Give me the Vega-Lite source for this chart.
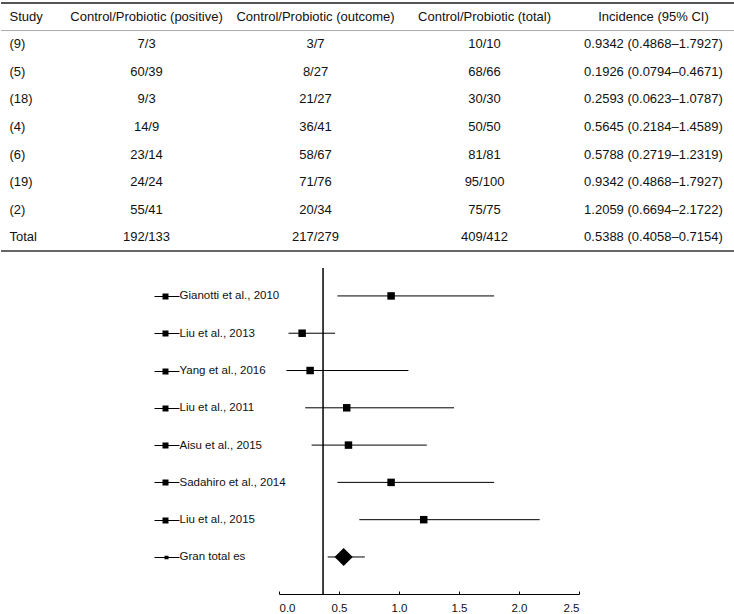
{
  "$schema": "https://vega.github.io/schema/vega-lite/v6.json",
  "background": "white",
  "padding": {"left": 0, "top": 2, "right": 0, "bottom": 0},
  "config": {
    "view": {"stroke": null},
    "font": "Liberation Sans",
    "axis": {"grid": false, "labelFont": "Liberation Sans", "titleFont": "Liberation Sans"}
  },
  "datasets": {
    "table": [
      {"row": "Study", "col": "pos", "text": "Control/Probiotic (positive)"},
      {"row": "Study", "col": "out", "text": "Control/Probiotic (outcome)"},
      {"row": "Study", "col": "tot", "text": "Control/Probiotic (total)"},
      {"row": "Study", "col": "inc", "text": "Incidence (95% CI)"},
      {"row": "(9)", "col": "pos", "text": "7/3"},
      {"row": "(9)", "col": "out", "text": "3/7"},
      {"row": "(9)", "col": "tot", "text": "10/10"},
      {"row": "(9)", "col": "inc", "text": "0.9342 (0.4868–1.7927)"},
      {"row": "(5)", "col": "pos", "text": "60/39"},
      {"row": "(5)", "col": "out", "text": "8/27"},
      {"row": "(5)", "col": "tot", "text": "68/66"},
      {"row": "(5)", "col": "inc", "text": "0.1926 (0.0794–0.4671)"},
      {"row": "(18)", "col": "pos", "text": "9/3"},
      {"row": "(18)", "col": "out", "text": "21/27"},
      {"row": "(18)", "col": "tot", "text": "30/30"},
      {"row": "(18)", "col": "inc", "text": "0.2593 (0.0623–1.0787)"},
      {"row": "(4)", "col": "pos", "text": "14/9"},
      {"row": "(4)", "col": "out", "text": "36/41"},
      {"row": "(4)", "col": "tot", "text": "50/50"},
      {"row": "(4)", "col": "inc", "text": "0.5645 (0.2184–1.4589)"},
      {"row": "(6)", "col": "pos", "text": "23/14"},
      {"row": "(6)", "col": "out", "text": "58/67"},
      {"row": "(6)", "col": "tot", "text": "81/81"},
      {"row": "(6)", "col": "inc", "text": "0.5788 (0.2719–1.2319)"},
      {"row": "(19)", "col": "pos", "text": "24/24"},
      {"row": "(19)", "col": "out", "text": "71/76"},
      {"row": "(19)", "col": "tot", "text": "95/100"},
      {"row": "(19)", "col": "inc", "text": "0.9342 (0.4868–1.7927)"},
      {"row": "(2)", "col": "pos", "text": "55/41"},
      {"row": "(2)", "col": "out", "text": "20/34"},
      {"row": "(2)", "col": "tot", "text": "75/75"},
      {"row": "(2)", "col": "inc", "text": "1.2059 (0.6694–2.1722)"},
      {"row": "Total", "col": "pos", "text": "192/133"},
      {"row": "Total", "col": "out", "text": "217/279"},
      {"row": "Total", "col": "tot", "text": "409/412"},
      {"row": "Total", "col": "inc", "text": "0.5388 (0.4058–0.7154)"}
    ],
    "forest": [
      {"study": "Gianotti et al., 2010", "est": 0.9342, "lo": 0.4868, "hi": 1.7927, "kind": "study"},
      {"study": "Liu et al., 2013", "est": 0.1926, "lo": 0.0794, "hi": 0.4671, "kind": "study"},
      {"study": "Yang et al., 2016", "est": 0.2593, "lo": 0.0623, "hi": 1.0787, "kind": "study"},
      {"study": "Liu et al., 2011", "est": 0.5645, "lo": 0.2184, "hi": 1.4589, "kind": "study"},
      {"study": "Aisu et al., 2015", "est": 0.5788, "lo": 0.2719, "hi": 1.2319, "kind": "study"},
      {"study": "Sadahiro et al., 2014", "est": 0.9342, "lo": 0.4868, "hi": 1.7927, "kind": "study"},
      {"study": "Liu et al., 2015", "est": 1.2059, "lo": 0.6694, "hi": 2.1722, "kind": "study"},
      {"study": "Gran total es", "est": 0.5388, "lo": 0.4058, "hi": 0.7154, "kind": "total"}
    ]
  },
  "spacing": 15,
  "vconcat": [
    {
      "width": 734,
      "height": 248,
      "layer": [
        {
          "data": {"name": "table"},
          "mark": {"type": "text", "fontSize": 13, "color": "#111", "font": "Liberation Sans"},
          "encoding": {
            "x": {"field": "col", "type": "nominal", "title": null,
              "scale": {"type": "point", "domain": ["pos", "out", "tot", "inc"], "padding": 0.672, "align": 0.641},
              "axis": null},
            "y": {"field": "row", "type": "nominal", "title": null,
              "scale": {"type": "band", "domain": ["Study", "(9)", "(5)", "(18)", "(4)", "(6)", "(19)", "(2)", "Total"], "paddingInner": 0, "paddingOuter": 0},
              "axis": {"orient": "left", "domain": false, "ticks": false, "labelAlign": "left", "labelPadding": -8, "labelFontSize": 13, "labelColor": "#111", "labelBaseline": "middle", "title": null}},
            "text": {"field": "text"}
          }
        },
        {
          "data": {"values": [{}]},
          "mark": {"type": "rule", "color": "#555", "strokeWidth": 2},
          "encoding": {"y": {"datum": "Study", "type": "nominal", "bandPosition": 0, "title": null}}
        },
        {
          "data": {"values": [{}]},
          "mark": {"type": "rule", "color": "#aaa", "strokeWidth": 1},
          "encoding": {"y": {"datum": "Study", "type": "nominal", "bandPosition": 1, "title": null}}
        },
        {
          "data": {"values": [{}]},
          "mark": {"type": "rule", "color": "#333", "strokeWidth": 1.5},
          "encoding": {"y": {"datum": "Total", "type": "nominal", "bandPosition": 1, "title": null}}
        }
      ]
    },
    {
      "spacing": 0,
      "hconcat": [
        {"width": 152, "height": 326, "data": {"values": []}, "mark": "text", "encoding": {}},
        {
          "width": 300,
          "height": 326,
          "data": {"name": "forest"},
          "resolve": {"axis": {"y": "independent"}},
          "layer": [
            {
              "data": {"values": [{}]},
              "mark": {"type": "rule", "color": "#000", "strokeWidth": 1.5},
              "encoding": {"x": {"datum": 0.367, "type": "quantitative", "title": null, "scale": {"domain": [0, 2.5], "nice": false, "zero": false}}}
            },
            {
              "mark": {"type": "rule", "color": "#000", "strokeWidth": 1},
              "encoding": {
                "x": {"field": "lo", "type": "quantitative", "title": null,
                  "scale": {"domain": [0, 2.5], "nice": false, "zero": false},
                  "axis": {"orient": "bottom", "values": [0, 0.5, 1, 1.5, 2, 2.5], "format": ".1f", "domain": true, "domainColor": "#000", "domainWidth": 1, "ticks": true, "tickSize": -3, "tickColor": "#000", "labelPadding": 11, "labelFontSize": 11.5, "labelColor": "#111", "title": null}},
                "x2": {"field": "hi"},
                "y": {"field": "study", "type": "nominal", "title": null,
                  "scale": {"type": "point", "domain": ["Gianotti et al., 2010", "Liu et al., 2013", "Yang et al., 2016", "Liu et al., 2011", "Aisu et al., 2015", "Sadahiro et al., 2014", "Liu et al., 2015", "Gran total es"], "padding": 0.871, "align": 0.43},
                  "axis": {"orient": "left", "offset": 100, "domain": false, "ticks": true, "tickSize": 25, "tickWidth": 1, "tickColor": "#000", "labelAlign": "left", "labelPadding": -25, "labelFontSize": 11.5, "labelColor": "#111", "labelBaseline": "middle", "labelLimit": 300, "title": null}}
              }
            },
            {
              "transform": [{"filter": "datum.kind == 'study'"}],
              "mark": {"type": "point", "shape": "square", "filled": true, "color": "#000", "opacity": 1, "size": 56},
              "encoding": {
                "x": {"field": "est", "type": "quantitative", "title": null, "scale": {"domain": [0, 2.5], "nice": false, "zero": false}},
                "y": {"field": "study", "type": "nominal", "title": null,
                  "scale": {"type": "point", "domain": ["Gianotti et al., 2010", "Liu et al., 2013", "Yang et al., 2016", "Liu et al., 2011", "Aisu et al., 2015", "Sadahiro et al., 2014", "Liu et al., 2015", "Gran total es"], "padding": 0.871, "align": 0.43},
                  "axis": {"orient": "left", "offset": 111, "domain": false, "labels": false, "ticks": true,
                    "tickSize": {"condition": {"test": "datum.value === 'Gran total es'", "value": 4}, "value": 6},
                    "tickWidth": {"condition": {"test": "datum.value === 'Gran total es'", "value": 3.5}, "value": 6},
                    "tickColor": "#000", "title": null}}
              }
            },
            {
              "transform": [{"filter": "datum.kind == 'total'"}],
              "mark": {"type": "point", "shape": "diamond", "filled": true, "color": "#000", "opacity": 1, "size": 330},
              "encoding": {
                "x": {"field": "est", "type": "quantitative", "title": null, "scale": {"domain": [0, 2.5], "nice": false, "zero": false}},
                "y": {"field": "study", "type": "nominal", "title": null,
                  "scale": {"type": "point", "domain": ["Gianotti et al., 2010", "Liu et al., 2013", "Yang et al., 2016", "Liu et al., 2011", "Aisu et al., 2015", "Sadahiro et al., 2014", "Liu et al., 2015", "Gran total es"], "padding": 0.871, "align": 0.43},
                  "axis": null}
              }
            }
          ]
        }
      ]
    }
  ]
}
